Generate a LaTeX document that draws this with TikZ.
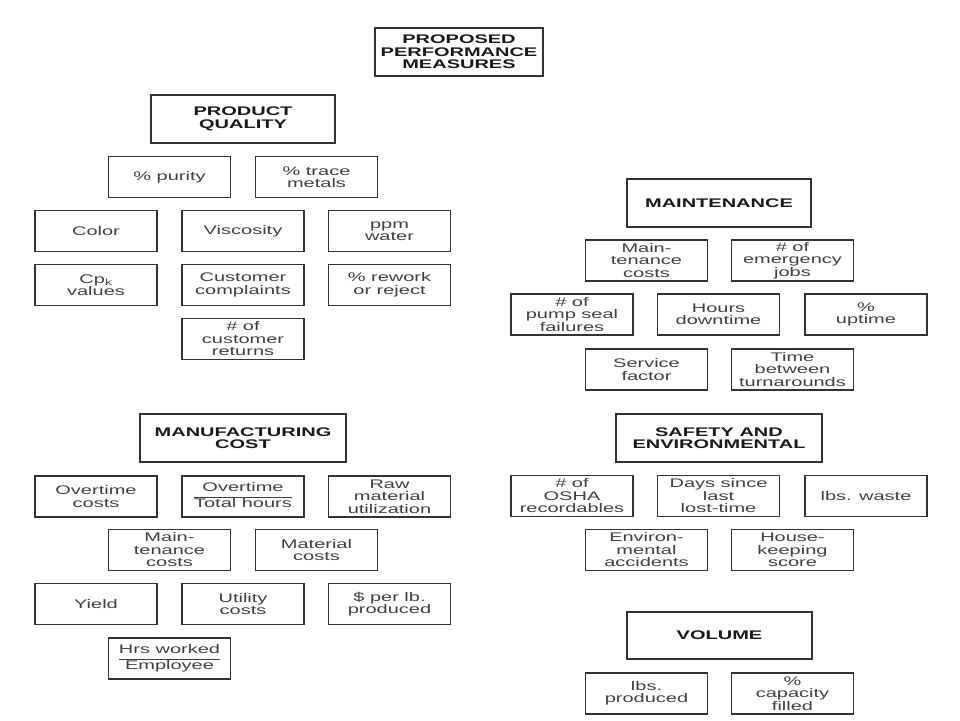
\documentclass[tikz,border=0pt]{standalone}
\usepackage{fontspec}
\setmainfont{Liberation Sans}[FakeStretch=1.6]
\tikzset{
  box/.style={draw=black!80, line width=1.3pt, inner sep=0pt, align=center,
    font=\fontsize{12.5}{12.5}\selectfont, text=black!75},
  item/.style={box, minimum width=122pt, minimum height=41pt},
  head/.style={box, font=\fontsize{12.5}{12.5}\selectfont\bfseries, text=black!90,
    minimum width=184pt, minimum height=48pt},
}
\newcommand{\ratio}[2]{{\setlength{\arrayrulewidth}{1pt}\renewcommand{\arraystretch}{1.15}%
  \begin{tabular}{@{}c@{}}#1\\[1pt]\hline #2\end{tabular}}}
\begin{document}
\begin{tikzpicture}[x=1pt,y=-1pt]
      \useasboundingbox (0,0) rectangle (960,720);
      \draw
        (459,52) node[head, minimum width=168pt] (measures){PROPOSED\\PERFORMANCE\\MEASURES};
      % product quality
      \draw
        (243,119) node[head] (quality){PRODUCT\\QUALITY}
        (169.5,177) node[item] (purity){\% purity}
        (316.5,177) node[item] (metals){\% trace\\metals}
        (96,231) node[item] (color){Color}
        (243,231) node[item] (visc){Viscosity}
        (389.5,231) node[item] (water){ppm\\water}
        (96,285) node[item] (cpk){Cp\textsubscript{k}\\values}
        (243,285) node[item] (complaints){Customer\\complaints}
        (389.5,285) node[item] (rework){\% rework\\or reject}
        (243,339) node[item] (returns){\# of\\customer\\returns};
      % maintenance
      \draw
        (719,203) node[head] (maint){MAINTENANCE}
        (646.5,260.5) node[item] (mcosts){Main-\\tenance\\costs}
        (792.5,260.5) node[item] (emerg){\# of\\emergency\\jobs}
        (572,314.5) node[item] (pump){\# of\\pump seal\\failures}
        (718.5,314.5) node[item] (down){Hours\\downtime}
        (866,314.5) node[item] (up){\%\\uptime}
        (646.5,369.5) node[item] (service){Service\\factor}
        (792.5,369.5) node[item] (turn){Time\\between\\turnarounds};
      % manufacturing cost
      \draw
        (243,438) node[head, minimum width=206pt] (manuf){MANUFACTURING\\COST}
        (96,496.5) node[item] (otcosts){Overtime\\costs}
        (243,496.5) node[item] (otratio){\ratio{Overtime}{Total hours}}
        (389.5,496.5) node[item] (raw){Raw\\material\\utilization}
        (169.5,550) node[item] (mcosts2){Main-\\tenance\\costs}
        (316.5,550) node[item] (material){Material\\costs}
        (96,604) node[item] (yield){Yield}
        (243,604) node[item] (utility){Utility\\costs}
        (389.5,604) node[item] (perlb){\$ per lb.\\produced}
        (169.5,658.5) node[item] (hrs){\ratio{Hrs worked}{Employee}};
      % safety and environmental
      \draw
        (719,438) node[head, minimum width=206pt] (safety){SAFETY AND\\ENVIRONMENTAL}
        (572,496) node[item] (osha){\# of\\OSHA\\recordables}
        (718.5,496) node[item] (days){Days since\\last\\lost-time}
        (866,496) node[item] (waste){lbs. waste}
        (646.5,550) node[item] (accid){Environ-\\mental\\accidents}
        (792.5,550) node[item] (house){House-\\keeping\\score};
      % volume
      \draw
        (719.5,635.5) node[head, minimum width=185pt, minimum height=47pt] (volume){VOLUME}
        (646.5,693.5) node[item] (lbs){lbs.\\produced}
        (792.5,693.5) node[item] (capacity){\%\\capacity\\filled};
    \end{tikzpicture}
\end{document}
